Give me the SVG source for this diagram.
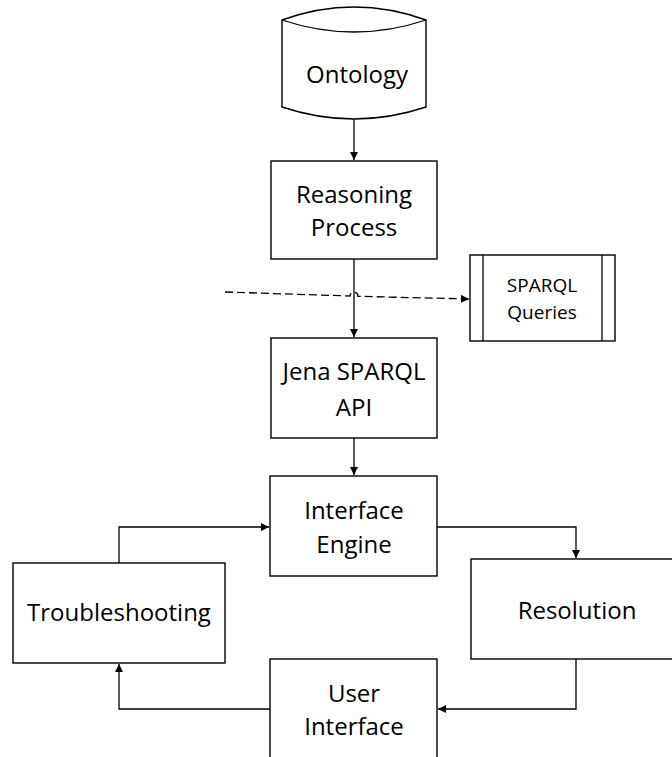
<svg xmlns="http://www.w3.org/2000/svg" width="672" height="757" viewBox="0 0 672 757">
<style>
.box{fill:#fff;stroke:#000;stroke-width:1.4}
.lbl{font-family:"Open Sans","Liberation Sans",sans-serif;font-size:24px;fill:#000;text-anchor:middle}
.small{font-size:19px}
.con{fill:none;stroke:#000;stroke-width:1.3}
.dash{stroke-dasharray:8 4}
</style>
<defs>
<marker id="arr" viewBox="0 0 10 10" refX="10" refY="5" markerWidth="8" markerHeight="8" markerUnits="userSpaceOnUse" orient="auto">
<path d="M0,0 L10,5 L0,10 Z" fill="#000"/>
</marker>
</defs>
<rect width="672" height="757" fill="#fff"/>
<g id="connectors">
<path class="con" d="M354,119 V160" marker-end="url(#arr)"/>
<path class="con" d="M354,259 V337" marker-end="url(#arr)"/>
<path class="con" d="M354,438 V475" marker-end="url(#arr)"/>
<path class="con" d="M119,563 V527 H269" marker-end="url(#arr)"/>
<path class="con" d="M437,527 H576 V558" marker-end="url(#arr)"/>
<path class="con" d="M576,659 V709 H438" marker-end="url(#arr)"/>
<path class="con" d="M270,709 H119 V664" marker-end="url(#arr)"/>
<path class="con dash" d="M225,292 L350,296 A4,4 0 0 1 358,296.3 L469,299" marker-end="url(#arr)"/>
</g>
<g id="ontology">
<path class="box" d="M282,20 Q354,-6 426,20 V107 Q354,131 282,107 Z"/>
<path class="con" d="M282,20 Q354,44 426,20"/>
<text class="lbl" x="357" y="83">Ontology</text>
</g>
<g id="reasoning">
<rect class="box" x="271" y="161" width="166" height="98"/>
<text class="lbl" x="354" y="203">Reasoning</text>
<text class="lbl" x="354" y="236">Process</text>
</g>
<g id="sparql-queries">
<rect class="box" x="470" y="255" width="145" height="86"/>
<line class="con" x1="483" y1="255" x2="483" y2="341"/>
<line class="con" x1="602" y1="255" x2="602" y2="341"/>
<text class="lbl small" x="542" y="292">SPARQL</text>
<text class="lbl small" x="542" y="319">Queries</text>
</g>
<g id="jena">
<rect class="box" x="271" y="338" width="166" height="100"/>
<text class="lbl" x="354" y="380">Jena SPARQL</text>
<text class="lbl" x="354" y="416">API</text>
</g>
<g id="interface-engine">
<rect class="box" x="270" y="476" width="167" height="100"/>
<text class="lbl" x="354" y="519">Interface</text>
<text class="lbl" x="354" y="553">Engine</text>
</g>
<g id="troubleshooting">
<rect class="box" x="13" y="563" width="212" height="100"/>
<text class="lbl" x="119" y="621">Troubleshooting</text>
</g>
<g id="resolution">
<rect class="box" x="471" y="559" width="211" height="100"/>
<text class="lbl" x="577" y="619">Resolution</text>
</g>
<g id="user-interface">
<rect class="box" x="270" y="659" width="167" height="110"/>
<text class="lbl" x="354" y="702">User</text>
<text class="lbl" x="354" y="735">Interface</text>
</g>
</svg>
